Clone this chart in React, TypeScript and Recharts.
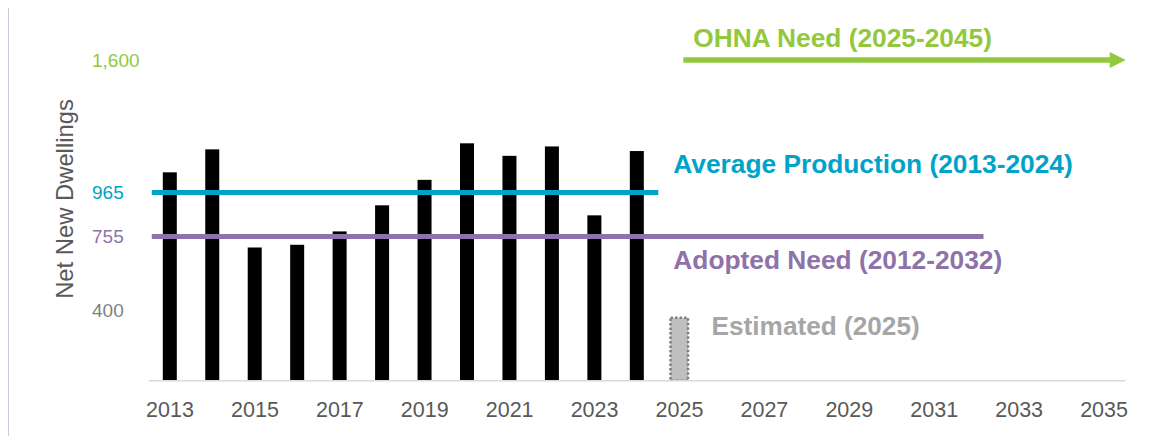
import React from 'react';
import { ComposedChart, Bar, XAxis, YAxis, ReferenceLine } from 'recharts';

const years = [2013, 2014, 2015, 2016, 2017, 2018, 2019, 2020, 2021, 2022, 2023, 2024];
const netNewDwellings = [1062, 1172, 702, 715, 779, 904, 1026, 1201, 1141, 1186, 856, 1164];
const estimatedYear = 2025;
const estimatedValue = 365;

const xTicks = [2013, 2015, 2017, 2019, 2021, 2023, 2025, 2027, 2029, 2031, 2033, 2035];
const yTicks = [400, 755, 965, 1600];

const averageProduction = 965;
const adoptedNeed = 755;
const ohnaNeed = 1600;

const FONT = '"Liberation Sans", Arial, Helvetica, sans-serif';
const TEAL = '#00a3c8';
const PURPLE = '#8e72a9';
const GREEN = '#92c83e';
const AXIS_TEXT = '#595959';

const tickColors: Record<number, string> = {
  400: '#7f7f7f',
  755: PURPLE,
  965: TEAL,
  1600: GREEN,
};

const barData = [
  ...years.map((year, i) => ({ year, value: netNewDwellings[i], estimated: false })),
  { year: estimatedYear, value: estimatedValue, estimated: true },
];

const YTick = ({ y, payload }: any) => (
  <text
    x={84}
    y={y}
    dy="0.355em"
    textAnchor="start"
    fill={tickColors[payload.value] || AXIS_TEXT}
    fontSize={19}
    fontFamily={FONT}
  >
    {payload.value.toLocaleString('en-US')}
  </text>
);

const renderBar = (props: any) => {
  const { x, y, width, height, payload } = props;
  if (payload && payload.estimated) {
    return (
      <g>
        <rect
          x={x - 1.75}
          y={y}
          width={width + 3.5}
          height={height}
          fill="#bfbfbf"
          stroke="#7f7f7f"
          strokeWidth={2.5}
          strokeDasharray="2.5 2"
        />
        <text
          x={x + width + 25.3}
          y={y + 17}
          fill="#a6a6a6"
          fontSize={26.2}
          fontWeight={700}
          fontFamily={FONT}
        >
          Estimated (2025)
        </text>
      </g>
    );
  }
  return <rect x={x} y={y} width={width} height={height} fill="#000000" />;
};

const App = () => {
  return (
    <div style={{ position: 'relative', width: 1150, height: 428, fontFamily: FONT }}>
      <div
        style={{
          position: 'absolute',
          left: -1,
          top: -3,
          width: 2,
          height: 444,
          background: '#c8cbe0',
        }}
      />
      <ComposedChart
        width={1150}
        height={428}
        data={barData}
        margin={{ top: 52, right: 32.7, left: 0, bottom: 15.3 }}
      >
        <XAxis
          dataKey="year"
          type="number"
          domain={[2012.5, 2035.5]}
          ticks={xTicks}
          interval={0}
          allowDataOverflow
          height={40}
          tickLine={false}
          tickSize={0}
          tickMargin={21}
          axisLine={{ stroke: '#d9d9d9', strokeWidth: 1.5 }}
          tick={{ fill: AXIS_TEXT, fontSize: 21.5, fontFamily: FONT }}
        />
        <YAxis
          type="number"
          domain={[64, 1600]}
          ticks={yTicks}
          interval={0}
          allowDataOverflow
          width={140.8}
          axisLine={false}
          tickLine={false}
          tick={<YTick />}
          label={() => (
            <text
              x={64.5}
              y={191}
              transform="rotate(-90 64.5 191)"
              textAnchor="middle"
              fill={AXIS_TEXT}
              fontSize={23.8}
              fontFamily={FONT}
            >
              Net New Dwellings
            </text>
          )}
        />
        <Bar dataKey="value" barSize={14} isAnimationActive={false} shape={renderBar} />
        <ReferenceLine
          segment={[
            { x: 2012.57, y: averageProduction },
            { x: 2024.5, y: averageProduction },
          ]}
          ifOverflow="visible"
          shape={(p: any) => (
            <g>
              <line x1={p.x1} y1={p.y1} x2={p.x2} y2={p.y2} stroke={TEAL} strokeWidth={5} />
              <text
                x={p.x2 + 15}
                y={p.y2 - 19.5}
                fill={TEAL}
                fontSize={26.3}
                fontWeight={700}
                fontFamily={FONT}
              >
                Average Production (2013-2024)
              </text>
            </g>
          )}
        />
        <ReferenceLine
          segment={[
            { x: 2012.57, y: adoptedNeed },
            { x: 2032.16, y: adoptedNeed },
          ]}
          ifOverflow="visible"
          shape={(p: any) => (
            <g>
              <line x1={p.x1} y1={p.y1} x2={p.x2} y2={p.y2} stroke={PURPLE} strokeWidth={5} />
              <text
                x={p.x1 + 521.6}
                y={p.y1 + 32.3}
                fill={PURPLE}
                fontSize={26.3}
                fontWeight={700}
                fontFamily={FONT}
              >
                Adopted Need (2012-2032)
              </text>
            </g>
          )}
        />
        <ReferenceLine
          segment={[
            { x: 2025.09, y: ohnaNeed },
            { x: 2035.51, y: ohnaNeed },
          ]}
          ifOverflow="visible"
          shape={(p: any) => (
            <g>
              <line x1={p.x1} y1={p.y1} x2={p.x2 - 14} y2={p.y2} stroke={GREEN} strokeWidth={5.5} />
              <polygon
                points={`${p.x2 - 16},${p.y2 - 8} ${p.x2},${p.y2} ${p.x2 - 16},${p.y2 + 8}`}
                fill={GREEN}
              />
              <text
                x={p.x1 + 10}
                y={p.y1 - 13}
                fill={GREEN}
                fontSize={26.3}
                fontWeight={700}
                fontFamily={FONT}
              >
                OHNA Need (2025-2045)
              </text>
            </g>
          )}
        />
      </ComposedChart>
    </div>
  );
};

export default App;
